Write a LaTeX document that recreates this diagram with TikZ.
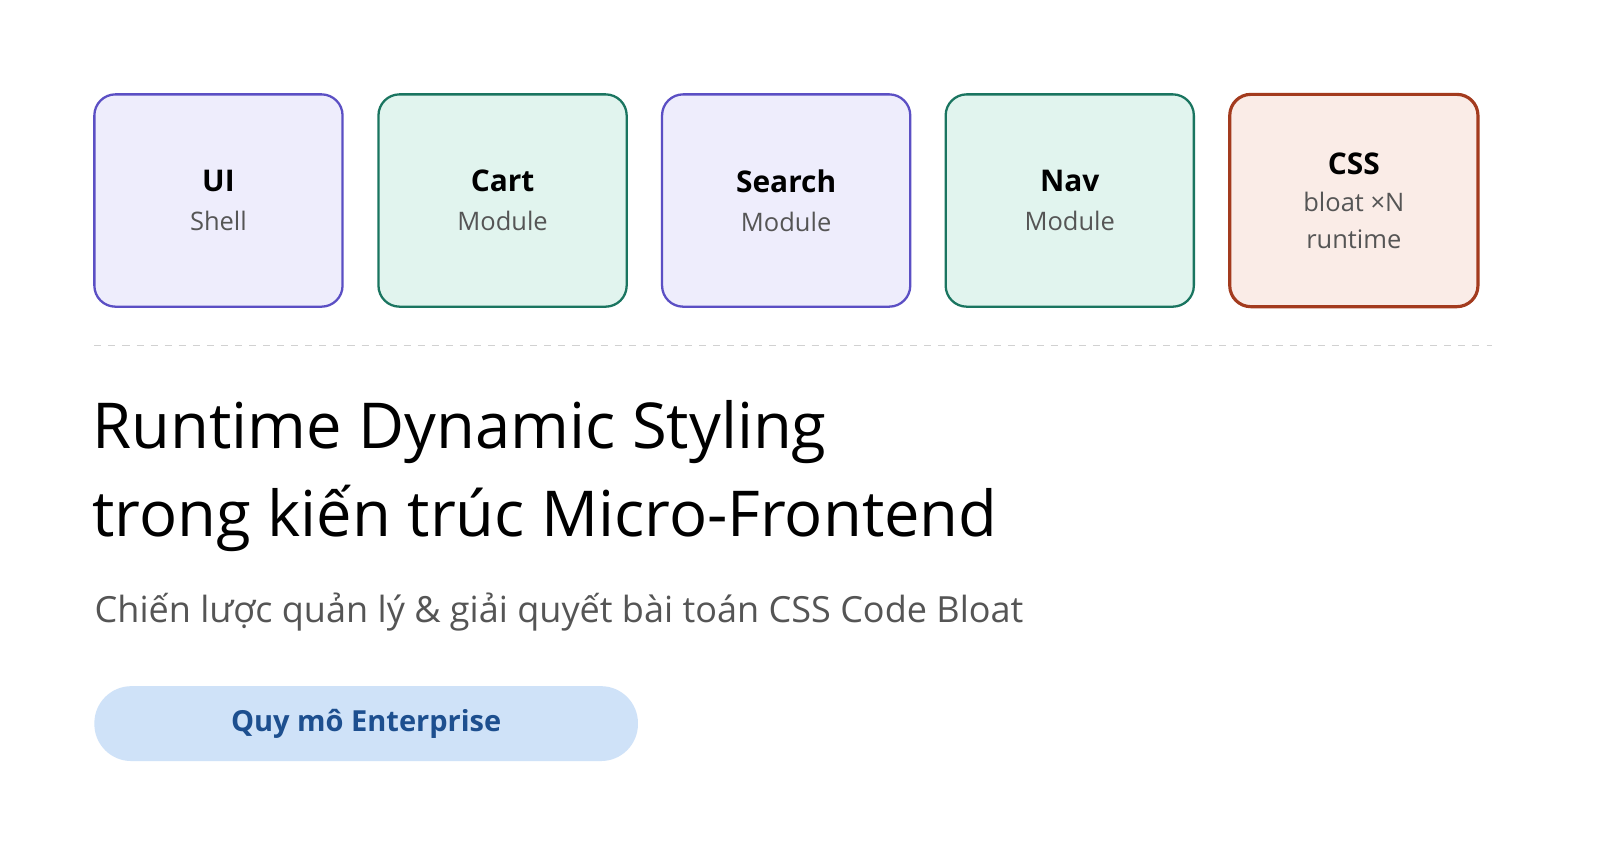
\documentclass[tikz,border=0pt]{standalone}
\usepackage{fontspec}
\setmainfont{Open Sans}
\usetikzlibrary{positioning}
\definecolor{purpfill}{HTML}{EEEDFC}\definecolor{purpline}{HTML}{5B4FC4}
\definecolor{greenfill}{HTML}{E1F4EE}\definecolor{greenline}{HTML}{1A7560}
\definecolor{redfill}{HTML}{FAECE7}\definecolor{redline}{HTML}{A33B1E}
\definecolor{pillfill}{HTML}{CFE2F8}\definecolor{pilltext}{HTML}{1D4F8F}
\definecolor{subgray}{HTML}{555555}
\newcommand\modsub[1]{{\fontsize{14.5}{21}\selectfont\mdseries\color{subgray}#1}}
\begin{document}
\begin{tikzpicture}[x=0.02051cm,y=-0.02051cm,
  mod/.style={rectangle, rounded corners=12, minimum width=242*0.02051cm, minimum height=207*0.02051cm, line width=1.3pt, align=center, font=\fontsize{17}{24}\selectfont\bfseries},
  purp/.style={mod, draw=purpline, fill=purpfill},
  green/.style={mod, draw=greenline, fill=greenfill}]
  \fill[white] (0,0) rectangle (1560,826);
  \node[purp] (ui) at (213,195.5) {UI\\[-2pt]\modsub{Shell}};
  \node[green] (cart) at (490,195.5) {Cart\\[-2pt]\modsub{Module}};
  \node[purp] (search) at (766.5,195.5) {Search\\[-2pt]\modsub{Module}};
  \node[green] (nav) at (1043,195.5) {Nav\\[-2pt]\modsub{Module}};
  \node[mod, draw=redline, fill=redfill, line width=1.8pt] (css) at (1320,195.5) {CSS\\[-3pt]\modsub{bloat ×N}\\[-3pt]\modsub{runtime}};
  \draw[black!18, dash pattern=on 4pt off 4pt, line width=0.6pt] (92,337) -- (1455,337);
  \node[anchor=north west, align=left, inner sep=0, font=\fontsize{36}{50}\selectfont\mdseries] (title) at (90,390) {Runtime Dynamic Styling\\trong kiến trúc Micro-Frontend};
  \node[anchor=north west, inner sep=0, text=subgray, font=\fontsize{20.5}{24}\selectfont] (subtitle) at (92,578) {Chiến lược quản lý \& giải quyết bài toán CSS Code Bloat};
  \node[rectangle, rounded corners=36*0.02051cm, fill=pillfill, minimum width=530*0.02051cm, minimum height=73*0.02051cm, text=pilltext, font=\fontsize{16.5}{20}\selectfont\bfseries] (scale) at (357,705.5) {Quy mô Enterprise};
\end{tikzpicture}
\end{document}
